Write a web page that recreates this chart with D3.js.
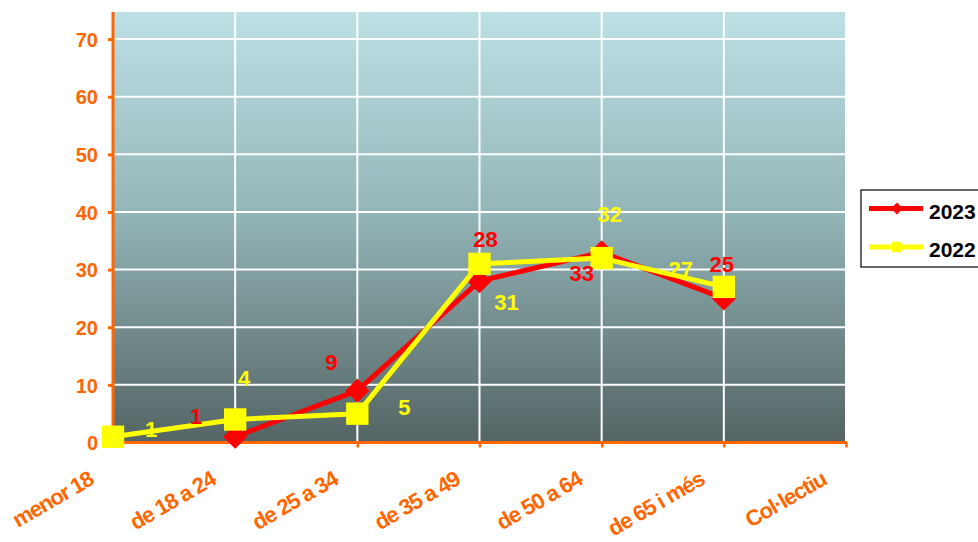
<!DOCTYPE html>
<html>
<head>
<meta charset="utf-8">
<script src="https://cdn.jsdelivr.net/npm/d3@7"></script>
<style>
  html, body { margin: 0; padding: 0; background: #ffffff; }
  svg { display: block; font-family: Arial, "Liberation Sans", sans-serif; }
</style>
</head>
<body>
<svg id="chart" width="978" height="542"></svg>
<script>
// Age groups on the category axis
const categories = ["menor 18", "de 18 a 24", "de 25 a 34", "de 35 a 49", "de 50 a 64", "de 65 i més", "Col·lectiu"];
// Values per age group (null = no value)
const values2023 = [null, 1, 9, 28, 33, 25, null];
const values2022 = [1, 4, 5, 31, 32, 27, null];
const seriesNames = ["2023", "2022"];
const yTicks = [0, 10, 20, 30, 40, 50, 60, 70];

// Label placement relative to each point (dx, dy of the text centre)
const labelOffsets2023 = [null, [-39, -21], [-26, -29], [6, -42], [-20, 21], [-2, -34], null];
const labelOffsets2022 = [[38, -8], [9, -41], [47, -7], [27, 38], [8, -44], [-43, -18], null];

const orange = "#FF6600";
const red = "#FF0000";
const yellow = "#FFFF00";

const svg = d3.select("#chart");
const plotLeft = 113, plotRight = 845, plotTop = 12, plotBottom = 442.5;

const x = d3.scalePoint().domain(categories).range([plotLeft, plotRight + 1]).padding(0);
const y = d3.scaleLinear().domain([0, 74.7]).range([plotBottom, plotTop]);

// Background gradient
const defs = svg.append("defs");
const grad = defs.append("linearGradient").attr("id", "bg").attr("x1", 0).attr("y1", 0).attr("x2", 0).attr("y2", 1);
grad.append("stop").attr("offset", "0%").attr("stop-color", "#BCE0E4");
grad.append("stop").attr("offset", "45%").attr("stop-color", "#95B7BA");
grad.append("stop").attr("offset", "100%").attr("stop-color", "#546464");

svg.append("rect").attr("x", plotLeft).attr("y", plotTop)
  .attr("width", plotRight - plotLeft).attr("height", plotBottom - plotTop)
  .attr("fill", "url(#bg)");

// Grid lines
svg.append("g").selectAll("line").data(yTicks.filter(d => d > 0)).join("line")
  .attr("x1", plotLeft).attr("x2", plotRight)
  .attr("y1", d => y(d)).attr("y2", d => y(d))
  .attr("stroke", "#ffffff").attr("stroke-width", 2);
svg.append("g").selectAll("line").data(categories.slice(1, -1)).join("line")
  .attr("x1", d => x(d)).attr("x2", d => x(d))
  .attr("y1", plotTop).attr("y2", plotBottom)
  .attr("stroke", "#ffffff").attr("stroke-width", 2);

// Y axis
const yAxis = svg.append("g").attr("transform", `translate(${plotLeft},0)`)
  .call(d3.axisLeft(y).tickValues(yTicks).tickSize(5).tickPadding(10).tickFormat(d3.format("d")));
yAxis.select(".domain").remove();
yAxis.selectAll(".tick line").attr("stroke", orange).attr("stroke-width", 3);
yAxis.selectAll(".tick text").attr("fill", orange)
  .style("font-size", "20px").style("font-weight", "bold").attr("dy", "0.36em");
svg.append("line").attr("x1", plotLeft).attr("x2", plotLeft).attr("y1", plotTop).attr("y2", plotBottom + 1.5)
  .attr("stroke", orange).attr("stroke-width", 3);

// X axis
const xAxis = svg.append("g").attr("transform", `translate(0,${plotBottom})`)
  .call(d3.axisBottom(x).tickSize(5).tickFormat(""));
xAxis.select(".domain").remove();
xAxis.selectAll(".tick line").attr("stroke", orange).attr("stroke-width", 2.5);
xAxis.selectAll(".tick").filter(d => d === categories[0]).select("line").remove();
svg.append("line").attr("x1", plotLeft - 1.5).attr("x2", plotRight + 2).attr("y1", plotBottom).attr("y2", plotBottom)
  .attr("stroke", orange).attr("stroke-width", 3);

svg.append("g").selectAll("text").data(categories).join("text")
  .attr("transform", d => `translate(${x(d) - 18},${plotBottom + 41}) rotate(-30)`)
  .attr("text-anchor", "end")
  .attr("fill", orange)
  .style("font-size", "22px").style("font-weight", "bold").style("letter-spacing", "-1.1px")
  .text(d => d);

// Series
const line = d3.line().defined(d => d.v !== null).x(d => x(d.c)).y(d => y(d.v));
function pts(vals) { return categories.map((c, i) => ({ c, v: vals[i], i })); }

function drawSeries(vals, color, rot, size) {
  const data = pts(vals);
  svg.append("path").datum(data).attr("d", line)
    .attr("fill", "none").attr("stroke", color).attr("stroke-width", 5).attr("stroke-linejoin", "round");
  svg.append("g").selectAll("path").data(data.filter(d => d.v !== null)).join("path")
    .attr("transform", d => `translate(${x(d.c)},${y(d.v)}) rotate(${rot})`)
    .attr("d", d3.symbol().type(d3.symbolSquare).size(size))
    .attr("fill", color);
}
// 2023: diamonds (rotated squares), 2022: squares
drawSeries(values2023, red, 45, 290);
drawSeries(values2022, yellow, 0, 500);

// Value labels
function drawLabels(vals, offsets, color) {
  const data = pts(vals).filter(d => d.v !== null && offsets[d.i]);
  svg.append("g").selectAll("text").data(data).join("text")
    .attr("x", d => x(d.c) + offsets[d.i][0])
    .attr("y", d => y(d.v) + offsets[d.i][1])
    .attr("dy", "0.36em")
    .attr("text-anchor", "middle")
    .attr("fill", color)
    .style("font-size", "22px").style("font-weight", "bold")
    .text(d => d.v);
}
drawLabels(values2023, labelOffsets2023, red);
drawLabels(values2022, labelOffsets2022, yellow);

// Legend
const legend = svg.append("g");
legend.append("rect").attr("x", 861).attr("y", 190).attr("width", 130).attr("height", 77)
  .attr("fill", "#ffffff").attr("stroke", "#000000").attr("stroke-width", 1.2);
const legendItems = [
  { name: seriesNames[0], color: red, rot: 45, size: 70, ly: 208.5 },
  { name: seriesNames[1], color: yellow, rot: 0, size: 110, ly: 247 }
];
legendItems.forEach(it => {
  legend.append("line").attr("x1", 869).attr("x2", 923).attr("y1", it.ly).attr("y2", it.ly)
    .attr("stroke", it.color).attr("stroke-width", 5);
  legend.append("path").attr("transform", `translate(897,${it.ly}) rotate(${it.rot})`)
    .attr("d", d3.symbol().type(d3.symbolSquare).size(it.size)).attr("fill", it.color);
  legend.append("text").attr("x", 929).attr("y", it.ly + 10)
    .attr("fill", "#000000")
    .style("font-size", "21px").style("font-weight", "bold")
    .text(it.name);
});
</script>
</body>
</html>
